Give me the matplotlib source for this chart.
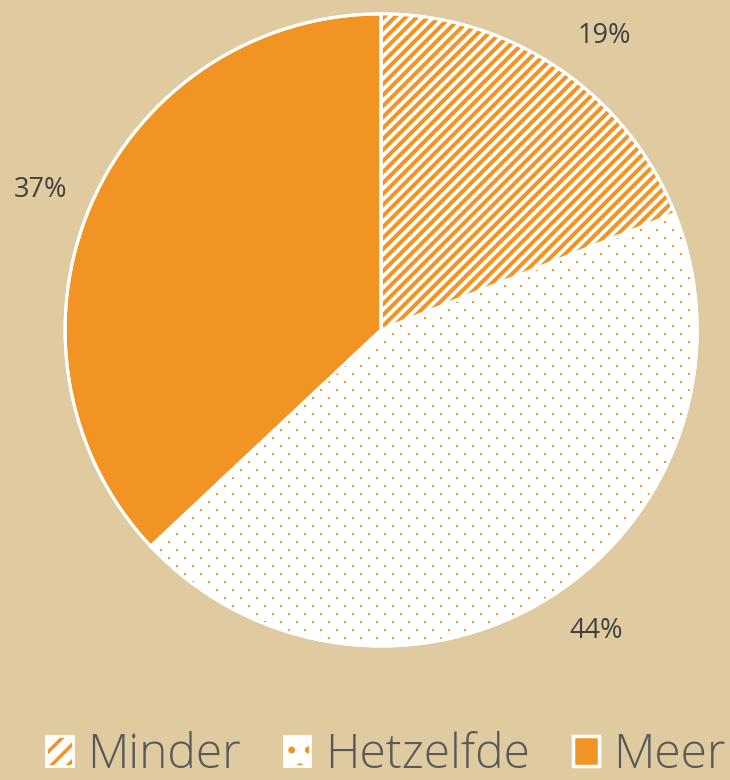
import numpy as np
import matplotlib
matplotlib.use("Agg")
import matplotlib.pyplot as plt
from matplotlib.patches import Patch, Wedge
from matplotlib.legend_handler import HandlerTuple

categories = ["Minder", "Hetzelfde", "Meer"]
values = [19, 44, 37]

BG = "#E0CBA0"
ORANGE = "#F29423"
TEXT = "#404040"
LEG_TEXT = "#595959"

fig = plt.figure(figsize=(7.3, 7.8), dpi=100)
fig.patch.set_facecolor(BG)
ax = fig.add_axes([0, 0, 1, 1])
ax.set_facecolor(BG)

wedges, texts, autotexts = ax.pie(
    values, startangle=90, counterclock=False,
    colors=["white", "white", ORANGE],
    wedgeprops=dict(edgecolor="white", linewidth=2.2),
    autopct=lambda p: f"{p:.0f}%", pctdistance=1.17,
    textprops=dict(color=TEXT, fontsize=19.5, family=["Open Sans", "DejaVu Sans"]),
)
ax.set_xlim(-1.206, 1.104)
ax.set_ylim(-1.424, 1.044)
ax.set_aspect("auto")
ax.axis("off")

# label placement (offsets from pie centre, in radii)
label_pos = [(0.706, 0.930), (0.680, -0.953), (-1.079, 0.443)]
for t, p in zip(autotexts, label_pos):
    t.set_position(p)

# diagonal stripes for "Minder"
period = 11 / 316
for c in np.arange(-2.5, 2.5, period):
    ln, = ax.plot([-1.2, 1.2], [-1.2 + c, 1.2 + c], color=ORANGE, lw=2.9,
                  solid_capstyle="butt", zorder=2)
    ln.set_clip_path(wedges[0])

# dots for "Hetzelfde"
dx, dy = 16 / 316, 8 / 316
xs, ys = [], []
for i, y in enumerate(np.arange(-1.05, 1.05, dy)):
    off = 0 if i % 2 == 0 else dx / 2
    for x in np.arange(-1.05 + off, 1.05, dx):
        xs.append(x)
        ys.append(y)
sc = ax.scatter(xs, ys, marker="s", s=3, color=ORANGE, linewidths=0, zorder=2)
sc.set_clip_path(wedges[1])
for w in wedges:
    w.set_zorder(1)
for w in wedges:
    ax.add_patch(Wedge(w.center, w.r, w.theta1, w.theta2,
                       facecolor="none", edgecolor="white",
                       linewidth=2.2, zorder=3))

plt.rcParams["hatch.linewidth"] = 2.5
h1 = (Patch(facecolor="white", edgecolor=ORANGE, hatch="//", linewidth=0),
      Patch(facecolor="none", edgecolor="white", linewidth=2))
h2 = (Patch(facecolor="white", edgecolor=ORANGE, hatch=".", linewidth=0),
      Patch(facecolor="none", edgecolor="white", linewidth=2))
h3 = Patch(facecolor=ORANGE, edgecolor="white", linewidth=2.5)
leg = fig.legend([h1, h2, h3], categories, loc="lower center",
                 bbox_to_anchor=(0.529, -0.055), ncol=3, frameon=False,
                 handler_map={tuple: HandlerTuple(ndivide=1)},
                 prop=dict(family=["Open Sans", "DejaVu Sans"], size=34.5, weight="light"),
                 handlelength=0.55, handleheight=0.6, handletextpad=0.3,
                 columnspacing=0.9, labelcolor=LEG_TEXT)

fig.savefig("out.png", dpi=100, facecolor=BG)
